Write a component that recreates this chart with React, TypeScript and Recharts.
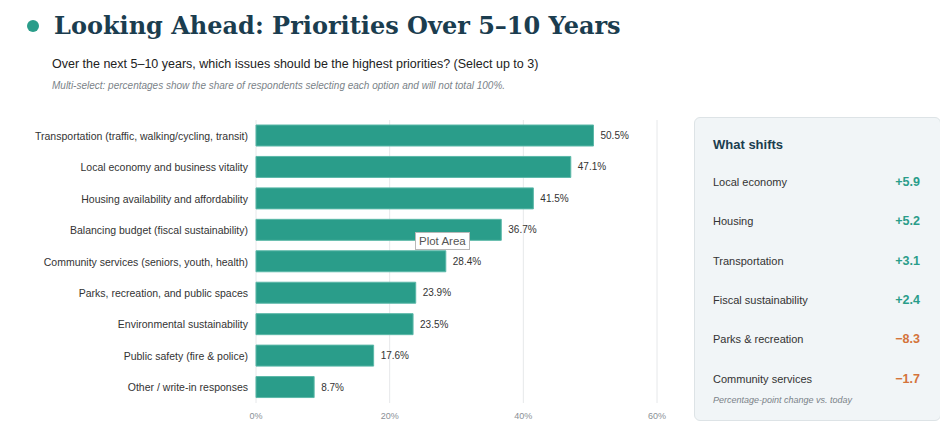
import React from 'react';
import { BarChart, Bar, XAxis, YAxis, CartesianGrid, LabelList } from 'recharts';

const categories = [
  'Transportation (traffic, walking/cycling, transit)',
  'Local economy and business vitality',
  'Housing availability and affordability',
  'Balancing budget (fiscal sustainability)',
  'Community services (seniors, youth, health)',
  'Parks, recreation, and public spaces',
  'Environmental sustainability',
  'Public safety (fire & police)',
  'Other / write-in responses',
];
const shares = [50.5, 47.1, 41.5, 36.7, 28.4, 23.9, 23.5, 17.6, 8.7];
const xTicks = [0, 20, 40, 60];

const shiftLabels = [
  'Local economy',
  'Housing',
  'Transportation',
  'Fiscal sustainability',
  'Parks & recreation',
  'Community services',
];
const shiftValues = ['+5.9', '+5.2', '+3.1', '+2.4', '\u22128.3', '\u22121.7'];

const TEAL = '#2a9d8a';
const ORANGE = '#d4733a';
const NAVY = '#1b3d4f';
const SANS = '"Liberation Sans", Arial, sans-serif';

const data = categories.map((name, i) => ({ name, value: shares[i] }));

function YTick(props: any) {
  const { x, y, payload } = props;
  return (
    <text x={x} y={y} dy={4} textAnchor="end" fontSize={10.5} fill="#333" fontFamily={SANS}>
      {payload.value}
    </text>
  );
}

export default function App() {
  return (
    <div style={{ position: 'relative', width: 948, height: 434, margin: -8, background: '#fff', overflow: 'hidden' }}>
      <div style={{ position: 'absolute', left: 27, top: 20, width: 12, height: 12, borderRadius: 6, background: TEAL }} />
      <div style={{ position: 'absolute', left: 54, top: 11, fontFamily: '"DejaVu Serif", serif', fontWeight: 700, fontSize: 24, color: NAVY, whiteSpace: 'nowrap' }}>
        Looking Ahead: Priorities Over 5–10 Years
      </div>
      <div style={{ position: 'absolute', left: 52, top: 57, fontFamily: SANS, fontSize: 12.5, color: '#222', whiteSpace: 'nowrap' }}>
        Over the next 5–10 years, which issues should be the highest priorities? (Select up to 3)
      </div>
      <div style={{ position: 'absolute', left: 52, top: 80, fontFamily: SANS, fontStyle: 'italic', fontSize: 10, color: '#7a8288', whiteSpace: 'nowrap' }}>
        Multi-select: percentages show the share of respondents selecting each option and will not total 100%.
      </div>

      <div style={{ position: 'absolute', left: 0, top: 0 }}>
        <BarChart
          width={700}
          height={434}
          data={data}
          layout="vertical"
          margin={{ top: 120, right: 43, bottom: 0, left: 0 }}
        >
          <CartesianGrid horizontal={false} stroke="#e6e8ea" />
          <XAxis
            type="number"
            domain={[0, 60]}
            ticks={xTicks}
            tickFormatter={(v) => `${v}%`}
            axisLine={false}
            tickLine={false}
            height={31}
            tick={{ fontSize: 9, fill: '#8a9096', fontFamily: SANS, dy: 2 }}
          />
          <YAxis
            type="category"
            dataKey="name"
            width={256}
            axisLine={false}
            tickLine={false}
            interval={0}
            tick={<YTick />}
          />
          <Bar dataKey="value" fill={TEAL} stroke="#5bb8a8" strokeWidth={1} barSize={21} isAnimationActive={false}>
            <LabelList
              dataKey="value"
              position="right"
              offset={7}
              formatter={(v: number) => `${v.toFixed(1)}%`}
              style={{ fontSize: 10, fill: '#333', fontFamily: SANS }}
            />
          </Bar>
        </BarChart>
      </div>

      <div style={{ position: 'absolute', left: 415, top: 232, padding: '2px 3px', border: '1px solid #b8b8b8', background: '#fff', fontFamily: SANS, fontSize: 11.5, color: '#555', whiteSpace: 'nowrap' }}>
        Plot Area
      </div>

      <div style={{ position: 'absolute', left: 694, top: 117, width: 247, height: 304, background: '#f1f5f7', border: '1px solid #dde3e6', borderRadius: 6, boxSizing: 'border-box' }}>
        <div style={{ position: 'absolute', left: 18, top: 19, fontFamily: SANS, fontWeight: 700, fontSize: 13, color: NAVY }}>What shifts</div>
        {shiftLabels.map((label, i) => (
          <div key={label} style={{ position: 'absolute', left: 18, right: 20, top: 56 + i * 39.3, height: 16, display: 'flex', justifyContent: 'space-between', alignItems: 'center', fontFamily: SANS }}>
            <span style={{ fontSize: 11, color: '#333' }}>{label}</span>
            <span style={{ fontSize: 12.5, fontWeight: 700, color: shiftValues[i].startsWith('+') ? TEAL : ORANGE }}>{shiftValues[i]}</span>
          </div>
        ))}
        <div style={{ position: 'absolute', left: 18, top: 277, fontFamily: SANS, fontStyle: 'italic', fontSize: 9, color: '#7a8288', whiteSpace: 'nowrap' }}>
          Percentage-point change vs. today
        </div>
      </div>
    </div>
  );
}
